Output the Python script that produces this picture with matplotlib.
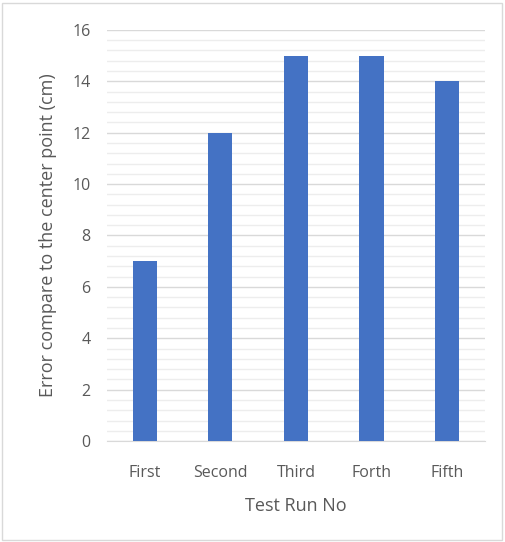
import matplotlib.pyplot as plt
import numpy as np
from matplotlib.patches import Rectangle
from matplotlib.ticker import MultipleLocator

runs = ['First', 'Second', 'Third', 'Forth', 'Fifth']
errors = [7, 12, 15, 15, 14]

plt.rcParams['font.family'] = ['Open Sans', 'DejaVu Sans']

fig = plt.figure(figsize=(5.05, 5.42), dpi=100)
ax = fig.add_axes([0.212, 0.186, 0.748, 0.759])

x = np.arange(len(runs))
ax.bar(x, errors, width=0.32, color='#4472C4', zorder=3)

ax.set_xlim(-0.5, len(runs) - 0.5)
ax.set_ylim(0, 16)
ax.yaxis.set_major_locator(MultipleLocator(2))
ax.yaxis.set_minor_locator(MultipleLocator(0.4))
ax.grid(axis='y', which='major', color='#D9D9D9', linewidth=1.0, zorder=0)
ax.grid(axis='y', which='minor', color='#EDEDED', linewidth=1.0, zorder=0)

ax.set_xticks(x)
ax.set_xticklabels(runs)
ax.tick_params(axis='both', which='both', length=0, colors='#595959', labelsize=11.5)
ax.tick_params(axis='x', pad=17)
ax.tick_params(axis='y', pad=12)

for side in ['top', 'right', 'left']:
    ax.spines[side].set_visible(False)
ax.spines['bottom'].set_color('#D9D9D9')

ax.set_xlabel('Test Run No', fontsize=13, color='#595959', labelpad=12)
ax.set_ylabel('Error compare to the center point (cm)', fontsize=13, color='#595959', labelpad=11)

# chart border
fig.patches.append(Rectangle((0.004, 0.004), 0.99, 0.99, transform=fig.transFigure,
                             fill=False, edgecolor='#D9D9D9', linewidth=1))

fig.savefig('out.png', dpi=100)
